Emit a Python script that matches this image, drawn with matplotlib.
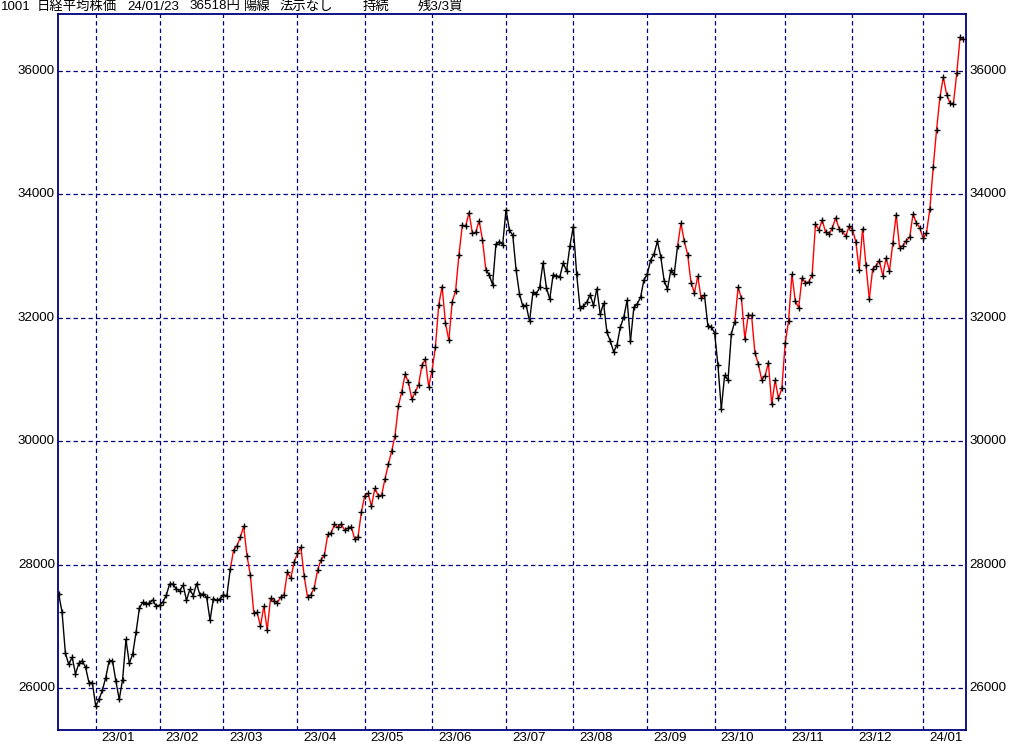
"""
Nikkei 225 daily close chart (Dec 2022 - Jan 2024), signal-coloured line.
Run: python plot.py  ->  out.png
"""

import numpy as np
import matplotlib
matplotlib.use("Agg")
import matplotlib.pyplot as plt
from matplotlib import font_manager

# ─────────────────────────────────────────────
# DATA  (daily closes, one list per month)
# ─────────────────────────────────────────────
MONTH_LABELS = ["22/12", "23/01", "23/02", "23/03", "23/04", "23/05", "23/06",
                "23/07", "23/08", "23/09", "23/10", "23/11", "23/12", "24/01"]

dec22 = [27527, 27237, 26568, 26387, 26507, 26235, 26405, 26447, 26340, 26093, 26094]
jan23 = [25717, 25820, 25973, 26175, 26446, 26449, 26119, 25822, 26138, 26791,
         26405, 26553, 26906, 27299, 27395, 27362, 27382, 27433, 27327]
feb23 = [27346, 27402, 27509, 27693, 27685, 27606, 27584, 27670, 27427, 27602,
         27501, 27696, 27513, 27531, 27473, 27104, 27453, 27423, 27445]
mar23 = [27516, 27498, 27927, 28237, 28309, 28444, 28623, 28143, 27832, 27222, 27229,
         27010, 27333, 26945, 27466, 27419, 27385, 27476, 27518, 27883, 27782, 28041]
apr23 = [28188, 28287, 27813, 27472, 27518, 27633, 27923, 28082, 28156, 28493,
         28514, 28658, 28606, 28657, 28564, 28593, 28620, 28416, 28457, 28856]
may23 = [29123, 29157, 28949, 29242, 29122, 29126, 29388, 29626, 29842, 30093,
         30573, 30808, 31086, 30957, 30682, 30801, 30916, 31233, 31328, 30887]
jun23 = [31148, 31524, 32217, 32506, 31913, 31641, 32265, 32434, 33018, 33502, 33485,
         33706, 33370, 33388, 33575, 33264, 32781, 32698, 32538, 33193, 33234, 33189]
jul23 = [33753, 33422, 33338, 32773, 32388, 32189, 32203, 31943, 32419, 32391,
         32493, 32896, 32490, 32304, 32700, 32682, 32668, 32891, 32759, 33172]
aug23 = [33476, 32707, 32159, 32192, 32254, 32377, 32204, 32473, 32059, 32238, 31766,
         31626, 31450, 31565, 31856, 32010, 32287, 31624, 32169, 32226, 32333, 32619]
sep23 = [32710, 32939, 33036, 33241, 32991, 32606, 32467, 32776, 32706, 33168,
         33533, 33242, 33023, 32571, 32402, 32678, 32315, 32371, 31872, 31857]
oct23 = [31759, 31237, 30526, 31075, 30994, 31746, 31936, 32494, 32315, 31659, 32040,
         32042, 31430, 31259, 30999, 31062, 31269, 30601, 30991, 30696, 30858]
nov23 = [31601, 31949, 32708, 32271, 32166, 32646, 32568, 32585, 32695, 33519,
         33424, 33585, 33388, 33354, 33452, 33625, 33447, 33408, 33321, 33486]
dec23 = [33431, 33231, 32775, 33445, 32858, 32307, 32791, 32843, 32926, 32686, 32970,
         32758, 33219, 33675, 33140, 33169, 33254, 33305, 33681, 33539, 33464]
jan24 = [33288, 33377, 33763, 34441, 35049, 35577, 35901, 35619, 35477, 35466,
         35963, 36546, 36518]

MONTHS = [dec22, jan23, feb23, mar23, apr23, may23, jun23,
          jul23, aug23, sep23, oct23, nov23, dec23, jan24]

# holding periods (line drawn red): (month label, day no. in month) start/end
RED_RUNS = [(("23/03", 3), ("23/06", 16)),
            (("23/09", 10), ("23/09", 17)),
            (("23/10", 7), ("24/01", 12))]

Y_TICKS = [26000, 28000, 30000, 32000, 34000, 36000]

TITLE_PARTS = ["1001", "日経平均株価", "24/01/23", "36518円", "陽線", "法示なし", "持続", "残3/3買"]

# ─────────────────────────────────────────────
# PREP
# ─────────────────────────────────────────────
closes = np.concatenate([np.array(m, dtype=float) for m in MONTHS])
month_start = {}
pos = 0
for lbl, m in zip(MONTH_LABELS, MONTHS):
    month_start[lbl] = pos
    pos += len(m)
x = np.arange(len(closes))

red = np.zeros(len(closes), dtype=bool)   # segment ending at i
for (m0, d0), (m1, d1) in RED_RUNS:
    red[month_start[m0] + d0: month_start[m1] + d1 + 1] = True

avail = {f.name for f in font_manager.fontManager.ttflist}
num_font = "Liberation Sans Narrow" if "Liberation Sans Narrow" in avail else "Liberation Sans"
NAVY = "#000080"

# ─────────────────────────────────────────────
# PLOT
# ─────────────────────────────────────────────
W, H = 1024, 745
fig = plt.figure(figsize=(W / 100, H / 100), dpi=100)
fig.patch.set_facecolor("white")
ax = fig.add_axes([58 / W, (H - 730) / H, (966 - 58) / W, (730 - 14) / H])

ax.set_xlim(-0.2, len(closes) - 0.25)
ax.set_ylim(25325, 36923)

# line segments, coloured by state
for i in range(1, len(closes)):
    ax.plot(x[i - 1:i + 1], closes[i - 1:i + 1], color="red" if red[i] else "black",
            lw=1.0, solid_capstyle="butt", zorder=3)
ax.plot(x, closes, linestyle="none", marker="+", ms=3.8, mew=1.0, color="black", zorder=4)

# grid
for lbl in MONTH_LABELS[1:]:
    ax.axvline(month_start[lbl], color=NAVY, lw=0.9, ls=(0, (3.5, 2.5)), zorder=1)
for v in Y_TICKS:
    ax.axhline(v, color=NAVY, lw=0.9, ls=(0, (3.5, 2.5)), zorder=1)

for s in ax.spines.values():
    s.set_color(NAVY)
    s.set_linewidth(1.3)
ax.set_xticks([])
ax.set_yticks([])

# y labels both sides
for v in Y_TICKS:
    ax.annotate(str(v), xy=(0, v), xycoords=("axes fraction", "data"),
                xytext=(-3, 0), textcoords="offset pixels", ha="right", va="center",
                fontsize=9.6, family=num_font, color="black")
    ax.annotate(str(v), xy=(1, v), xycoords=("axes fraction", "data"),
                xytext=(3, 0), textcoords="offset pixels", ha="left", va="center",
                fontsize=9.6, family=num_font, color="black")

# month labels, left-aligned just right of each gridline
for lbl in MONTH_LABELS[1:]:
    ax.annotate(lbl, xy=(month_start[lbl], 0), xycoords=("data", "axes fraction"),
                xytext=(6, -2), textcoords="offset pixels", ha="left", va="top",
                fontsize=9.6, family=num_font, color="black", annotation_clip=False)

# header line: narrow font for digits, CJK font for the rest
title_x = [1, 37, 127, 189, 244, 279, 363, 418]
for txt, px in zip(TITLE_PARTS, title_x):
    fig.text(px / W, 1 - 6.5 / H, txt, ha="left", va="center", fontsize=9.6,
             family=[num_font, "Noto Sans CJK JP", "DejaVu Sans"], color="black")

plt.savefig("out.png", dpi=100, facecolor="white")
plt.close()
